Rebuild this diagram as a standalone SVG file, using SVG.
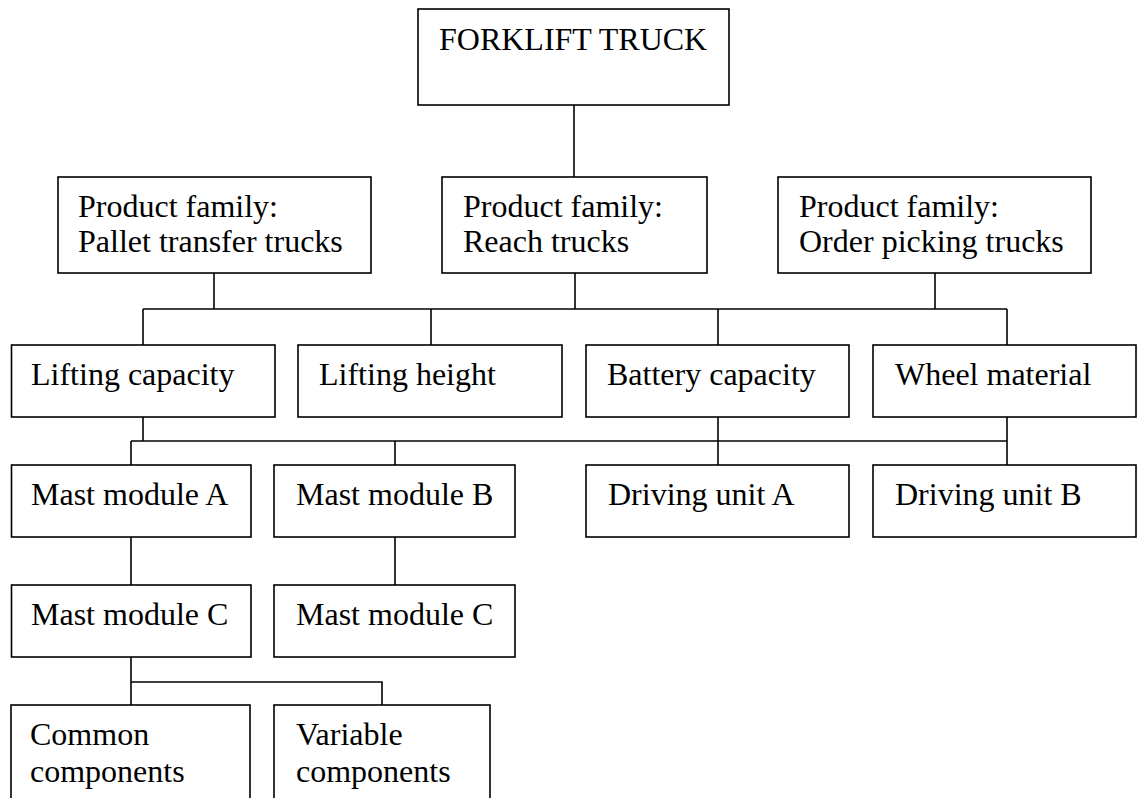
<svg xmlns="http://www.w3.org/2000/svg" width="1138" height="798" viewBox="0 0 1138 798">
<style>
rect{fill:#fff;stroke:#000;stroke-width:1.6}
text{font-family:"Liberation Serif","Times New Roman",serif;font-size:32px;fill:#000}
.c line,.c path{stroke:#000;stroke-width:1.6;fill:none}
</style>
<rect x="0" y="0" width="1138" height="798" style="stroke:none"/>
<g class="c" id="connectors">
<line x1="574" y1="105" x2="574" y2="177"/>
<line x1="214" y1="273" x2="214" y2="309"/>
<line x1="575" y1="273" x2="575" y2="309"/>
<line x1="935" y1="273" x2="935" y2="309"/>
<line x1="143" y1="309" x2="1007" y2="309"/>
<line x1="143" y1="309" x2="143" y2="345"/>
<line x1="431" y1="309" x2="431" y2="345"/>
<line x1="718" y1="309" x2="718" y2="345"/>
<line x1="1007" y1="309" x2="1007" y2="345"/>
<line x1="143" y1="417" x2="143" y2="441"/>
<line x1="131" y1="441" x2="1007" y2="441"/>
<line x1="718" y1="417" x2="718" y2="465"/>
<line x1="1007" y1="417" x2="1007" y2="465"/>
<line x1="131" y1="441" x2="131" y2="465"/>
<line x1="395" y1="441" x2="395" y2="465"/>
<line x1="131" y1="537" x2="131" y2="585"/>
<line x1="395" y1="537" x2="395" y2="585"/>
<line x1="131" y1="657" x2="131" y2="705"/>
<path d="M131 682 H382 V705"/>
</g>
<g id="forklift"><rect x="418" y="9" width="311" height="96"/><text x="439" y="50">FORKLIFT TRUCK</text></g>
<g id="pallet"><rect x="58" y="177" width="313" height="96"/><text x="78" y="217">Product family:</text><text x="78" y="252">Pallet transfer trucks</text></g>
<g id="reach"><rect x="442" y="177" width="265" height="96"/><text x="463" y="217">Product family:</text><text x="463" y="252">Reach trucks</text></g>
<g id="order"><rect x="778" y="177" width="313" height="96"/><text x="799" y="217">Product family:</text><text x="799" y="252">Order picking trucks</text></g>
<g id="lifting-capacity"><rect x="11.5" y="345" width="263.5" height="72"/><text x="31" y="385">Lifting capacity</text></g>
<g id="lifting-height"><rect x="298" y="345" width="264" height="72"/><text x="319" y="385">Lifting height</text></g>
<g id="battery"><rect x="586" y="345" width="263" height="72"/><text x="607" y="385">Battery capacity</text></g>
<g id="wheel"><rect x="873" y="345" width="263" height="72"/><text x="895" y="385">Wheel material</text></g>
<g id="mast-a"><rect x="11.5" y="465" width="239.5" height="72"/><text x="31" y="505">Mast module A</text></g>
<g id="mast-b"><rect x="274" y="465" width="241" height="72"/><text x="296" y="505">Mast module B</text></g>
<g id="driving-a"><rect x="586" y="465" width="263" height="72"/><text x="608" y="505">Driving unit A</text></g>
<g id="driving-b"><rect x="873" y="465" width="263" height="72"/><text x="895" y="505">Driving unit B</text></g>
<g id="mast-c1"><rect x="11.5" y="585" width="239.5" height="72"/><text x="31" y="625">Mast module C</text></g>
<g id="mast-c2"><rect x="274" y="585" width="241" height="72"/><text x="296" y="625">Mast module C</text></g>
<g id="common"><rect x="11" y="705" width="239" height="110"/><text x="30" y="745">Common</text><text x="30" y="782">components</text></g>
<g id="variable"><rect x="274" y="705" width="216" height="110"/><text x="296" y="745">Variable</text><text x="296" y="782">components</text></g>
</svg>
